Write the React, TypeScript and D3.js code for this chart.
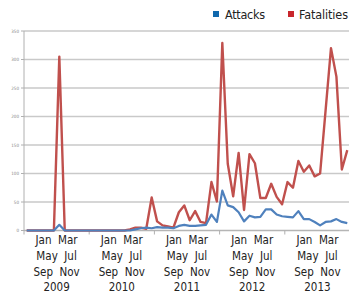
import * as d3 from 'd3';

const years = ['2009', '2010', '2011', '2012', '2013'];
const monthNames = ['Jan', 'Feb', 'Mar', 'Apr', 'May', 'Jun', 'Jul', 'Aug', 'Sep', 'Oct', 'Nov', 'Dec'];
const yTicks = [0, 50, 100, 150, 200, 250, 300, 350];

// monthly counts, Jan 2009 .. Dec 2013
const attacks = [
  0, 0, 0, 0, 0, 0, 10, 0, 0, 0, 0, 0,
  0, 0, 0, 0, 0, 0, 0, 0, 2, 4, 5, 4,
  6, 5, 5, 4, 8, 10, 8, 8, 9, 10, 28, 15,
  70, 44, 41, 32, 16, 26, 23, 24, 37, 37, 28, 25,
  24, 23, 34, 20, 20, 15, 9, 15, 16, 20, 15, 13,
];
const fatalities = [
  0, 0, 0, 0, 0, 0, 305, 0, 0, 0, 0, 0,
  0, 0, 0, 0, 0, 0, 0, 2, 5, 5, 3, 58,
  16, 9, 7, 5, 32, 44, 18, 34, 15, 13, 85, 51,
  329, 117, 60, 136, 36, 134, 118, 57, 57, 82, 59, 46,
  85, 75, 122, 103, 114, 95, 100, 210, 320, 270, 107, 141,
];

const months = years.flatMap(y => monthNames.map(m => `${m} ${y}`));

const W = 349;
const H = 293;
const left = 24;
const right = 350;
const font = '"DejaVu Sans Condensed", "Liberation Sans Narrow", "Open Sans", sans-serif';

export default function App() {
  const x = d3.scalePoint<string>().domain(months).range([left, right]).padding(0.5);
  const xYear = d3.scaleBand<string>().domain(years).range([left, right]);
  const y = d3.scaleLinear().domain([0, 350]).range([230.5, 31]);

  const line = d3.line<number>()
    .x((_, i) => x(months[i]) as number)
    .y(d => y(d));

  const yearLines = ['Jan  Mar', 'May  Jul', 'Sep  Nov'];

  return (
    <svg width={W} height={H} style={{ position: 'absolute', left: 0, top: 0, background: '#fff' }}>
      {/* gridlines */}
      {yTicks.filter(t => t > 0).map(t => (
        <line key={t} x1={left} x2={W} y1={y(t)} y2={y(t)} stroke="#c9c9c9" strokeWidth={1.5} />
      ))}
      {/* y axis */}
      <line x1={left} x2={left} y1={y(350)} y2={y(0)} stroke="#b0b0b0" strokeWidth={1} />
      <line x1={left} x2={W} y1={y(0)} y2={y(0)} stroke="#b5b5b5" strokeWidth={1.5} />
      {yTicks.map(t => (
        <g key={t}>
          <line x1={left - 3} x2={left} y1={y(t)} y2={y(t)} stroke="#b0b0b0" />
          <text x={left - 5} y={y(t)} dy="0.35em" textAnchor="end" fontSize={4.5} fill="#888" fontFamily={font}>{t}</text>
        </g>
      ))}
      {/* year separators */}
      {years.map(yr => (
        <line key={yr} x1={xYear(yr)} x2={xYear(yr)} y1={y(0)} y2={y(0) + 4} stroke="#b0b0b0" strokeWidth={1} />
      ))}
      {/* category labels */}
      {years.map(yr => {
        const cx = (xYear(yr) as number) + xYear.bandwidth() / 2;
        return (
          <g key={yr} fontFamily={font} fontSize={11.5} fill="#222" textAnchor="middle">
            {yearLines.map((l, k) => (
              <text key={k} x={cx} y={244 + k * 16} style={{ whiteSpace: 'pre' }}>{l}</text>
            ))}
            <text x={cx} y={290.5}>{yr}</text>
          </g>
        );
      })}
      {/* series */}
      <path d={line(fatalities) || ''} fill="none" stroke="#c0504d" strokeWidth={2.4} strokeLinejoin="round" />
      <path d={line(attacks) || ''} fill="none" stroke="#4f81bd" strokeWidth={2.2} strokeLinejoin="round" />
      {/* legend */}
      <g fontFamily={font} fontSize={12.5} fill="#222">
        <rect x={213} y={11} width={6} height={6} fill="#1068ad" />
        <text x={225} y={19} textLength={40}>Attacks</text>
        <rect x={288} y={11} width={6} height={6} fill="#c8262c" />
        <text x={299} y={19} textLength={49}>Fatalities</text>
      </g>
    </svg>
  );
}
